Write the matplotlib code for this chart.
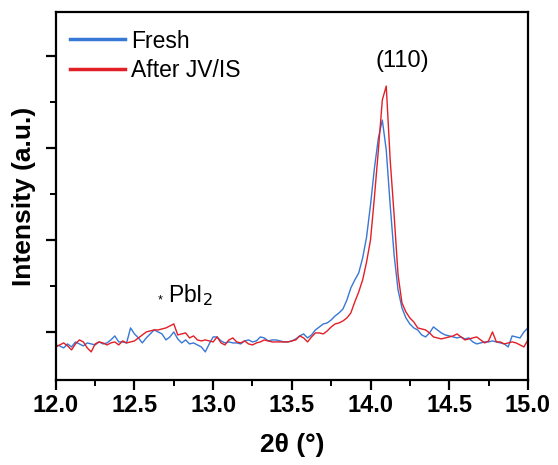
import numpy as np
import matplotlib
matplotlib.use("Agg")
import matplotlib.pyplot as plt
from matplotlib.ticker import MultipleLocator, FixedLocator, NullFormatter

plt.rcParams['font.family'] = ['Liberation Sans', 'DejaVu Sans']

# 2theta grid, 12.0 -> 15.0 in 0.025 steps (121 points)
two_theta = np.round(np.arange(121) * 0.025 + 12.0, 3)

fresh = [
    35, 34, 32, 36, 33, 38, 36, 34, 37, 36,
    35, 38, 36, 37, 40, 44, 38, 38, 37, 52,
    46, 42, 37, 42, 46, 50, 48, 46, 40, 43,
    48, 41, 37, 40, 36, 37, 35, 33, 28, 36,
    43, 43, 39, 37, 38, 37, 37, 36, 39, 40,
    38, 39, 43, 42, 39, 40, 40, 39, 38, 38,
    39, 41, 44, 46, 42, 45, 50, 53, 56, 57,
    60, 64, 67, 71, 80, 92, 100, 107, 122, 143,
    175, 212, 242, 260, 230, 175, 125, 90, 72, 62,
    56, 52, 50, 45, 43, 47, 53, 50, 47, 45,
    44, 43, 42, 43, 41, 42, 38, 36, 37, 38,
    38, 39, 38, 37, 36, 33, 44, 43, 42, 48,
    52,
]

after_jv = [
    33, 35, 37, 34, 30, 36, 40, 38, 32, 28,
    36, 38, 37, 35, 37, 38, 35, 39, 37, 38,
    39, 42, 45, 48, 49, 50, 50, 51, 52, 54,
    56, 45, 46, 47, 42, 44, 40, 39, 40, 39,
    38, 43, 37, 35, 40, 42, 38, 37, 39, 36,
    35, 37, 38, 40, 39, 38, 38, 38, 38, 38,
    39, 40, 44, 42, 38, 43, 47, 47, 46, 49,
    53, 56, 57, 59, 62, 67, 78, 88, 100, 118,
    140, 183, 230, 280, 294, 220, 165, 105, 77, 68,
    62, 58, 52, 51, 50, 47, 43, 42, 41, 42,
    43, 44, 46, 43, 40, 41, 42, 43, 40, 37,
    39, 48, 38, 38, 36, 37, 38, 37, 35, 33,
    40,
]

x_ticks = [12.0, 12.5, 13.0, 13.5, 14.0, 14.5, 15.0]

fig = plt.figure(figsize=(5.58, 4.65), dpi=100)
ax = fig.add_axes([0.100, 0.183, 0.846, 0.791])

ax.plot(two_theta, fresh, color="#3777d6", lw=1.0, label="Fresh")
ax.plot(two_theta, after_jv, color="#e21f26", lw=1.0, label="After JV/IS")

ax.set_xlim(12.0, 15.0)
ax.set_ylim(0, 368)
ax.set_xticks(x_ticks)
ax.set_xticklabels([f"{t:.1f}" for t in x_ticks])
ax.xaxis.set_minor_locator(MultipleLocator(0.25))
ax.yaxis.set_major_locator(FixedLocator([48, 140, 232, 324]))
ax.yaxis.set_minor_locator(FixedLocator([94, 186, 278]))
ax.yaxis.set_major_formatter(NullFormatter())

for s in ax.spines.values():
    s.set_linewidth(1.6)
ax.tick_params(which="major", direction="out", length=7, width=1.6,
               labelsize=17, top=False, right=False)
ax.tick_params(which="minor", direction="out", length=4, width=1.4,
               top=False, right=False)
for lab in ax.get_xticklabels():
    lab.set_fontweight("bold")

ax.set_xlabel("2θ (°)", fontsize=19, fontweight="bold", labelpad=11)
ax.set_ylabel("Intensity (a.u.)", fontsize=19, fontweight="bold", labelpad=4)

ax.text(14.2, 319, "(110)", fontsize=17, ha="center", va="center")
ax.text(12.665, 80, "*", fontsize=9, ha="center", va="center")
ax.text(12.71, 85, "PbI$_2$", fontsize=16.5, ha="left", va="center")

leg = ax.legend(loc="upper left", frameon=False, fontsize=16.5,
                handlelength=2.4, handletextpad=0.3, labelspacing=0.3,
                borderaxespad=0.2, bbox_to_anchor=(0.0, 0.99))
for h in leg.legend_handles:
    h.set_linewidth(2.5)

fig.savefig("out.png", dpi=100)
